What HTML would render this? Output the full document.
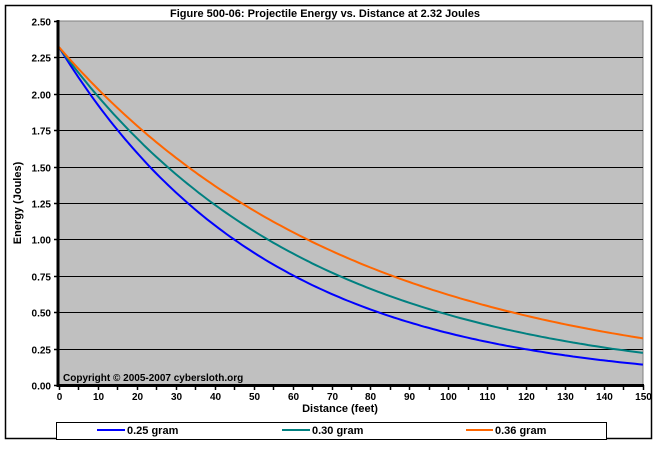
<!DOCTYPE html>
<html><head><meta charset="utf-8"><style>
body{margin:0;background:#fff;}
svg text{font-family:"Liberation Sans",Arial,sans-serif;font-weight:bold;}
</style></head><body>
<svg id="s" width="658" height="444" xmlns="http://www.w3.org/2000/svg">
<rect x="5.5" y="5.5" width="646" height="433" fill="#fff" stroke="#000" stroke-width="1.5"/>
<rect x="58" y="21" width="585" height="364" fill="#c0c0c0" stroke="#808080" stroke-width="1"/>
<g id="grid" stroke="#000" stroke-width="1"></g>
<g id="curves" fill="none" stroke-width="2"></g>
<line x1="58" y1="20" x2="58" y2="387" stroke="#000" stroke-width="3"/>
<line x1="57" y1="385.5" x2="644" y2="385.5" stroke="#000" stroke-width="3"/>
<g id="ticks" stroke="#000" stroke-width="1.5"></g>
<g id="lbl" font-size="10"></g>
<text x="325" y="17" font-size="11" text-anchor="middle">Figure 500-06:  Projectile Energy vs. Distance at 2.32 Joules</text>
<text x="63" y="381" font-size="10">Copyright © 2005-2007 cybersloth.org</text>
<text x="340" y="412" font-size="11" text-anchor="middle">Distance (feet)</text>
<text transform="translate(21,203) rotate(-90)" font-size="11" text-anchor="middle">Energy (Joules)</text>
<rect x="56.5" y="422.5" width="550" height="17" fill="#fff" stroke="#000" stroke-width="1"/>
<line x1="97" y1="430" x2="125" y2="430" stroke="#0000ff" stroke-width="2"/>
<text x="127" y="434" font-size="11">0.25 gram</text>
<line x1="282" y1="430" x2="310" y2="430" stroke="#008080" stroke-width="2"/>
<text x="312" y="434" font-size="11">0.30 gram</text>
<line x1="466" y1="430" x2="493" y2="430" stroke="#ff6600" stroke-width="2"/>
<text x="495" y="434" font-size="11">0.36 gram</text>
</svg>
<script>
var ns="http://www.w3.org/2000/svg";
function el(p,t,a,txt){var e=document.createElementNS(ns,t);for(var k in a)e.setAttribute(k,a[k]);if(txt!=null)e.textContent=txt;document.getElementById(p).appendChild(e);}
function X(d){return 59+d*3.893;}function Y(e){return 385-e*145.6;}
for(var i=0;i<=10;i++){var v=i*0.25,y=Math.round(Y(v))+0.5;
 if(i>0&&i<10)el("grid","line",{x1:58,y1:y,x2:643,y2:y});
 el("ticks","line",{x1:54,y1:y,x2:58,y2:y});
 el("lbl","text",{x:51,y:y+4,"text-anchor":"end"},v.toFixed(2));}
for(var d=0;d<=150;d+=5){var x=Math.round(X(d))+0.5;el("ticks","line",{x1:x,y1:385,x2:x,y2:390});
 if(d%10==0)el("lbl","text",{x:x,y:400,"text-anchor":"middle"},String(d));}
[[0.01872,"#0000ff"],[0.0157,"#008080"],[0.0132,"#ff6600"]].forEach(function(c){
 var p=[];for(var d=0;d<=150;d+=1)p.push(X(d).toFixed(1)+","+Y(2.32*Math.exp(-c[0]*d)).toFixed(1));
 el("curves","polyline",{points:p.join(" "),stroke:c[1]});});
</script>
</body></html>
